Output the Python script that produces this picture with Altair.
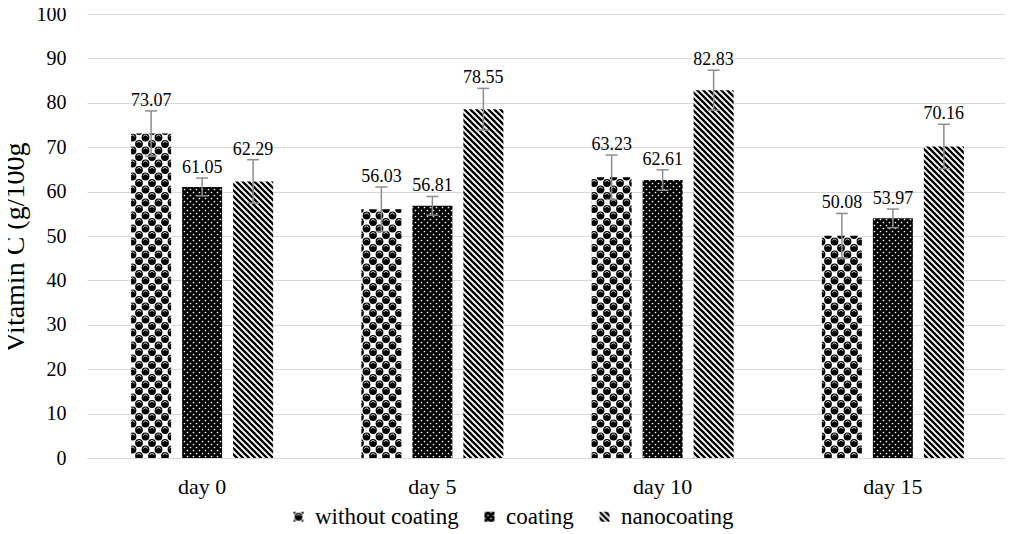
import altair as alt
import pandas as pd
import jinja2

# ---------------- data ----------------
days = ["day 0", "day 5", "day 10", "day 15"]
series = ["without coating", "coating", "nanocoating"]
without_coating = [73.07, 56.03, 63.23, 50.08]
coating = [61.05, 56.81, 62.61, 53.97]
nanocoating = [62.29, 78.55, 82.83, 70.16]
err_without = [5.1, 5.0, 5.0, 5.0]
err_coating = [2.0, 2.1, 2.3, 2.1]
err_nano = [4.9, 4.7, 4.5, 5.0]

values = {"without coating": without_coating, "coating": coating, "nanocoating": nanocoating}
errors = {"without coating": err_without, "coating": err_coating, "nanocoating": err_nano}

rows = []
for s in series:
    for d, v, e in zip(days, values[s], errors[s]):
        rows.append({"day": d, "series": s, "value": v, "lo": v - e, "hi": v + e,
                     "label": f"{v:.2f}"})
df = pd.DataFrame(rows)

FONT = "Liberation Serif"
YTITLE = "Vitamin C (g/100g"
fills = ["url(#pWithout)", "url(#pCoating)", "url(#pNano)"]

x_enc = alt.X("day:N", sort=days, title=None,
              scale=alt.Scale(paddingInner=0.3833, paddingOuter=0.19165))
xo_enc = alt.XOffset("series:N", sort=series,
                     scale=alt.Scale(paddingInner=0.2157, paddingOuter=0))
yscale = alt.Scale(domain=[0, 100], nice=False)

bars = alt.Chart(df).mark_bar().encode(
    x=x_enc,
    xOffset=xo_enc,
    y=alt.Y("value:Q", scale=yscale, title=YTITLE,
            axis=alt.Axis(values=list(range(0, 101, 10)))),
    color=alt.Color("series:N", sort=series,
                    scale=alt.Scale(domain=series, range=fills),
                    legend=alt.Legend(title=None, orient="none", legendX=200, legendY=491,
                                      direction="horizontal", symbolType="square",
                                      symbolSize=100, symbolStrokeWidth=0,
                                      labelFont=FONT, labelFontSize=23, labelColor="#000",
                                      labelOffset=5, columnPadding=19, padding=0)),
)

rules = alt.Chart(df).mark_rule(color="#8c8c8c", strokeWidth=1.5).encode(
    x=x_enc, xOffset=xo_enc,
    y=alt.Y("lo:Q", scale=yscale, title=YTITLE),
    y2="hi:Q",
)

caps_hi = alt.Chart(df).mark_tick(color="#8c8c8c", thickness=1.5, size=12,
                                  orient="horizontal", opacity=1).encode(
    x=x_enc, xOffset=xo_enc,
    y=alt.Y("hi:Q", scale=yscale, title=YTITLE),
)
caps_lo = alt.Chart(df).mark_tick(color="#8c8c8c", thickness=1.5, size=12,
                                  orient="horizontal", opacity=1).encode(
    x=x_enc, xOffset=xo_enc,
    y=alt.Y("lo:Q", scale=yscale, title=YTITLE),
)

labels = alt.Chart(df).mark_text(font=FONT, fontSize=18, color="#000",
                                 baseline="alphabetic", align="center", dy=-5).encode(
    x=x_enc, xOffset=xo_enc,
    y=alt.Y("hi:Q", scale=yscale, title=YTITLE),
    text="label:N",
)

chart = alt.layer(bars, rules, caps_lo, caps_hi, labels).properties(
    width=921, height=444,
    autosize=alt.AutoSizeParams(type="none"),
    padding={"left": 79, "top": 6, "right": 2, "bottom": 74},
    background="white",
).configure(font=FONT).configure_view(stroke=None).configure_axis(
    labelFont=FONT, titleFont=FONT,
).configure_axisX(
    labelFont=FONT, labelFontSize=22, labelColor="#000", labelAngle=0,
    labelPadding=35, labelBaseline="alphabetic",
    ticks=False, tickSize=0, grid=False,
    domain=True, domainColor="#d9d9d9", domainWidth=1,
).configure_axisY(
    labelFont=FONT, labelFontSize=20, labelColor="#000", labelPadding=21,
    ticks=False, tickSize=0, domain=False,
    grid=True, gridColor="#d9d9d9", gridWidth=1,
    titleFont=FONT, titleFontSize=28, titleFontWeight="normal", titleColor="#000",
    titleAngle=-90, titleX=-72, titleY=233, titleAlign="center", titleBaseline="middle",
).configure_legend(labelFont=FONT)

PATTERNS = """
<svg width="0" height="0" style="position:absolute;left:0;top:0" aria-hidden="true">
  <defs>
    <pattern id="pWithout" patternUnits="userSpaceOnUse" width="13" height="13">
      <rect width="13" height="13" fill="#ffffff"/>
      <g fill="#000">
        <circle cx="0" cy="0" r="3.9"/>
        <circle cx="13" cy="0" r="3.9"/>
        <circle cx="0" cy="13" r="3.9"/>
        <circle cx="13" cy="13" r="3.9"/>
        <circle cx="6.5" cy="6.5" r="3.9"/>
      </g>
      <g stroke="#fff" stroke-width="0.8" fill="none">
        <path d="M4.3,5.6 a2.3,2.3 0 0 1 4.4,0"/>
        <path d="M-2.2,-0.9 a2.3,2.3 0 0 1 4.4,0"/>
        <path d="M10.8,-0.9 a2.3,2.3 0 0 1 4.4,0"/>
        <path d="M-2.2,12.1 a2.3,2.3 0 0 1 4.4,0"/>
        <path d="M10.8,12.1 a2.3,2.3 0 0 1 4.4,0"/>
      </g>
    </pattern>
    <pattern id="pCoating" patternUnits="userSpaceOnUse" width="6" height="6">
      <rect width="6" height="6" fill="#000"/>
      <circle cx="1.5" cy="1.5" r="0.85" fill="#fff"/>
      <circle cx="4.5" cy="4.5" r="0.85" fill="#fff"/>
    </pattern>
    <pattern id="pNano" patternUnits="userSpaceOnUse" width="6" height="6">
      <rect width="6" height="6" fill="#fff"/>
      <path d="M0,0 L6,6 M-1,5 L1,7 M5,-1 L7,1" stroke="#000" stroke-width="2.3"/>
    </pattern>
  </defs>
</svg>
"""

TEMPLATE = jinja2.Template("""<!DOCTYPE html>
<html>
<head>
  <meta charset="utf-8">
  <style>
    #{{ output_div }}.vega-embed { width: 100%; display: flex; }
    #{{ output_div }}.vega-embed details,
    #{{ output_div }}.vega-embed details summary { position: relative; }
    #{{ output_div }} svg { overflow: visible; }
  </style>
  <script type="text/javascript" src="{{ base_url }}/vega@{{ vega_version }}"></script>
  <script type="text/javascript" src="{{ base_url }}/vega-lite@{{ vegalite_version }}"></script>
  <script type="text/javascript" src="{{ base_url }}/vega-embed@{{ vegaembed_version }}"></script>
</head>
<body>
""" + PATTERNS + """
  <div id="{{ output_div }}"></div>
  <script type="text/javascript">
    (function(vegaEmbed) {
      var spec = {{ spec }};
      var embedOpt = {{ embed_options }};
      function showError(el, error){
        el.innerHTML = ('<div style="color:red;"><p>JavaScript Error: ' + error.message + '</p></div>');
        throw error;
      }
      const el = document.getElementById('{{ output_div }}');
      vegaEmbed("#{{ output_div }}", spec, embedOpt).catch(error => showError(el, error));
    })(vegaEmbed);
  </script>
</body>
</html>
""")

chart.save("out.html", embed_options={"renderer": "svg", "actions": False}, template=TEMPLATE)
